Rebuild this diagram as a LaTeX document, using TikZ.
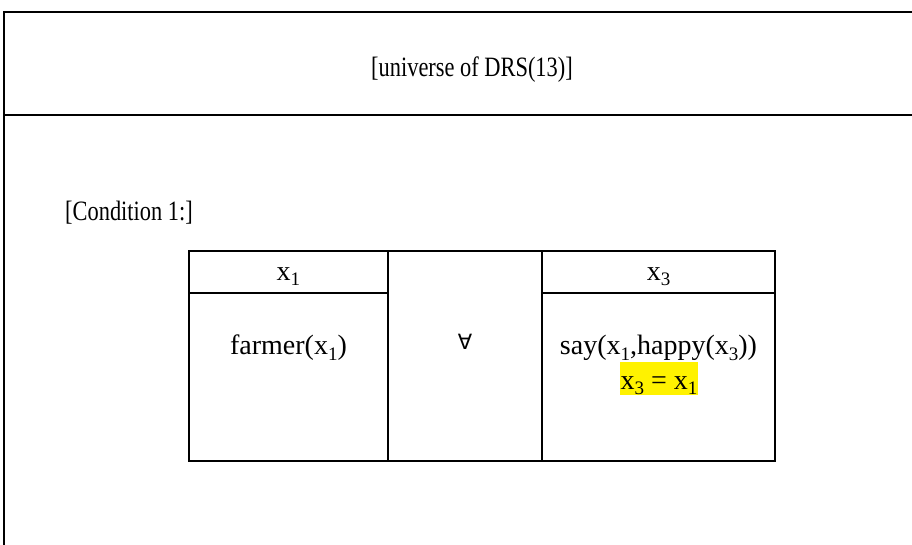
\documentclass[tikz,border=0pt]{standalone}
\usepackage{fontspec}
\setmainfont{Liberation Serif}
\newfontfamily\symfont{DejaVu Sans}
\usetikzlibrary{positioning}

% discourse referent with a lowered index
\newcommand{\xs}[1]{x\raisebox{-0.2em}{\scalebox{0.68}{#1}}}
% narrow setting for the box labels
\newcommand{\narrowtxt}[1]{\scalebox{0.8}[1]{#1}}

\begin{document}
\begin{tikzpicture}[x=1pt,y=-1pt,
	box/.style={ draw, line width=2pt, inner sep=0pt, outer sep=0pt, anchor=north west },
	txt/.style={ font=\fontsize{28}{32}\selectfont, inner sep=0pt, anchor=base },
	cell/.style={ font=\fontsize{28}{32}\selectfont, inner sep=0pt, align=center },
	hilite/.style={ fill=yellow, inner xsep=1pt, inner ysep=2pt, text height=25pt, text depth=4pt, anchor=base }
]
	\useasboundingbox (0,0) rectangle (912,544);
	\clip (0,0) rectangle (912,544);

	% outer DRS: universe on top, conditions below
	\node at (4,12) (univ) [box,minimum width=960pt,minimum height=103pt] {};
	\node at (univ.south west) (conds) [box,minimum width=960pt,minimum height=480pt] {};
	\node at (472,76) (ulabel) [txt] {\narrowtxt{[universe of DRS(13)]}};
	\node at (129,220) (clabel) [txt] {\narrowtxt{[Condition 1:]}};

	% condition 1: the duplex box
	\node at (189,251) (lhead) [box,minimum width=199pt,minimum height=42pt] {};
	\node at (lhead.south west) (lbody) [box,minimum width=199pt,minimum height=168pt] {};
	\node at (lhead.north east) (quant) [box,minimum width=154pt,minimum height=210pt] {};
	\node at (quant.north east) (rhead) [box,minimum width=233pt,minimum height=42pt] {};
	\node at (rhead.south west) (rbody) [box,minimum width=233pt,minimum height=168pt] {};

	\node at ([yshift=-8pt]lhead.center) (x1) [cell,anchor=base] {\xs{1}};
	\node at ([yshift=-8pt]rhead.center) (x3) [cell,anchor=base] {\xs{3}};
	\node at ([yshift=-55pt]lbody.north) (farmer) [cell] {farmer(\xs{1})};
	\node at ([yshift=-91pt]quant.north) (every) [cell] {\symfont\fontsize{21}{25}\selectfont ∀};
	\node at ([yshift=-55pt]rbody.north) (say) [cell] {say(\xs{1},happy(\xs{3}))};
	\node at (659,389) (eq) [cell,hilite] {\xs{3} = \xs{1}};
\end{tikzpicture}
\end{document}
